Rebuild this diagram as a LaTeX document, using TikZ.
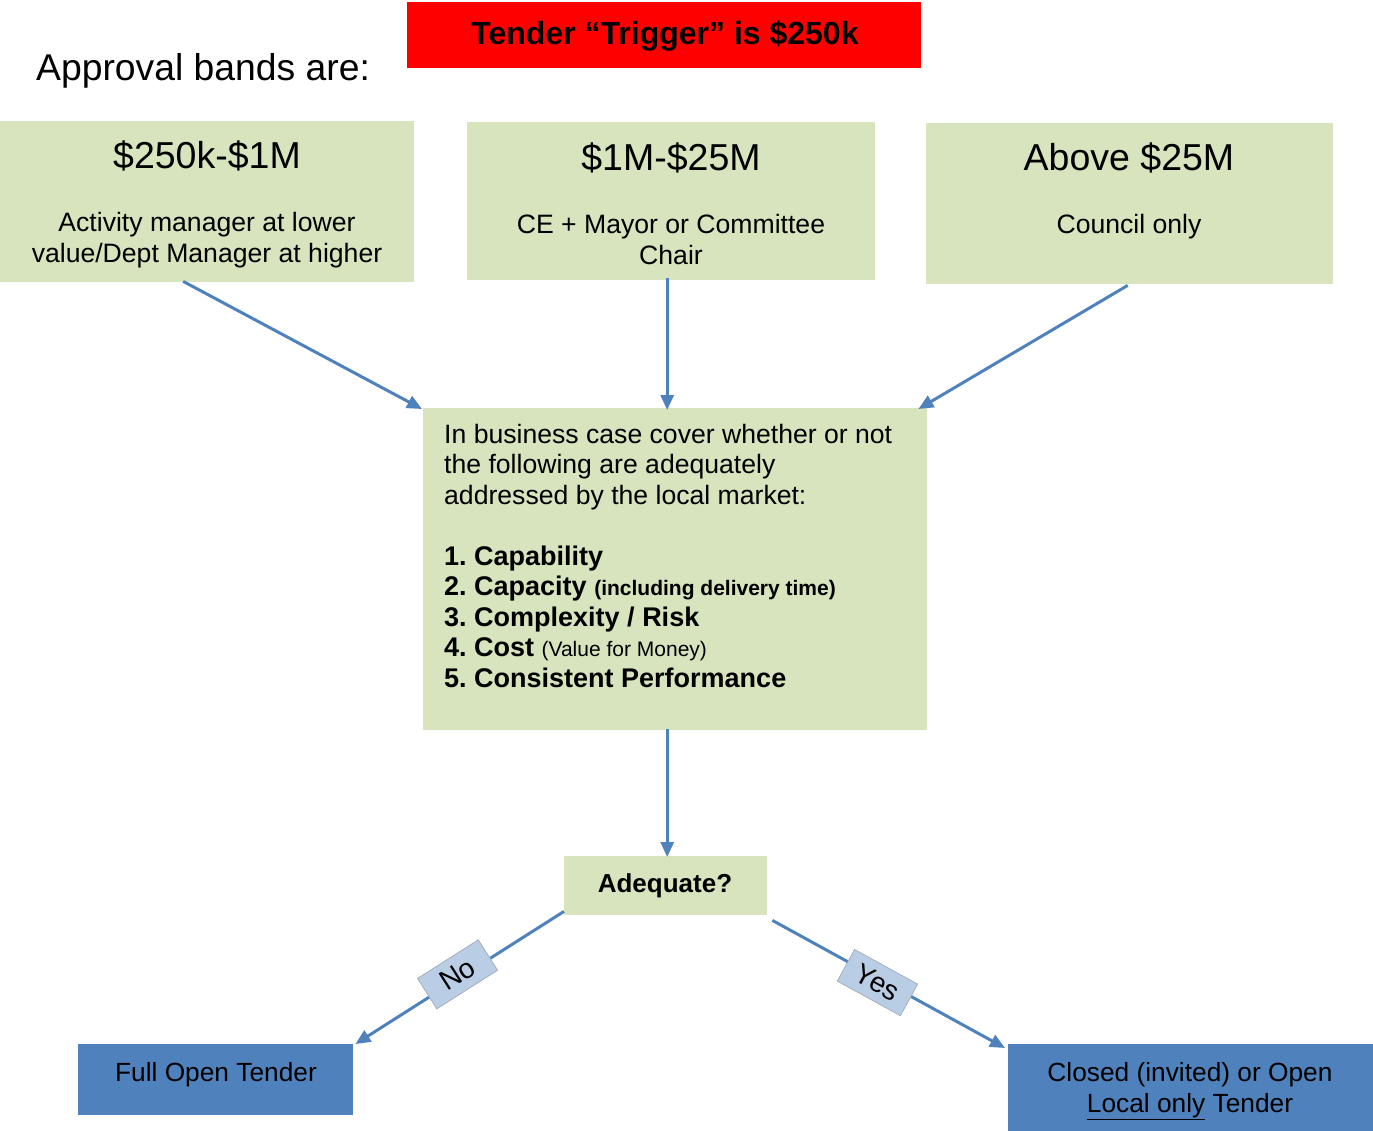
\documentclass[tikz,border=0pt]{standalone}
\usepackage{fontspec}
\setmainfont{Liberation Sans}
\usetikzlibrary{arrows.meta}
\definecolor{boxgreen}{RGB}{215,228,189}
\definecolor{lineblue}{RGB}{79,129,189}
\definecolor{lblblue}{RGB}{185,205,229}
\definecolor{lblborder}{RGB}{165,175,190}
\newcommand{\fs}[2]{\fontsize{#1}{#2}\selectfont}
\frenchspacing
\begin{document}
\begin{tikzpicture}[x=1pt,y=-1pt,
  gbox/.style={fill=boxgreen, draw=none, anchor=north west, inner sep=0pt},
  bbox/.style={fill=lineblue, draw=none, anchor=north west, inner sep=0pt},
  conn/.style={draw=lineblue, line width=3pt, -{Triangle[length=15pt,width=13pt]}},
  lbl/.style={fill=lblblue, draw=lblborder, line width=0.8pt, font=\fs{28}{30}, inner xsep=6pt, inner ysep=3pt, minimum height=36pt, minimum width=72pt, sloped},
  title/.style={font=\fs{37.5}{40}, inner sep=0pt},
  body/.style={font=\fs{26.6}{31}, align=center, inner sep=0pt}]
\useasboundingbox (0,0) rectangle (1373,1131);

% header
\node[fill=red, minimum width=514pt, minimum height=66pt, anchor=north west, inner sep=0pt] (trig) at (407,2) {};
\node[font=\fs{32}{34}\bfseries, inner sep=0pt] (trigtxt) at (665,36) {Tender “Trigger” is \$250k};
\node[font=\fs{37.3}{40}, anchor=west, inner sep=0pt] (appr) at (36,71) {Approval bands are:};

% band boxes
\node[gbox, minimum width=414pt, minimum height=161pt] (b1) at (0,121) {};
\node[gbox, minimum width=408pt, minimum height=158pt] (b2) at (467,122) {};
\node[gbox, minimum width=407pt, minimum height=161pt] (b3) at (926,123) {};

\node[title] (b1t) at (207,156) {\$250k-\$1M};
\node[body] (b1b) at (207,240) {Activity manager at lower\\value/Dept Manager at higher};
\node[title] (b2t) at (671,158) {\$1M-\$25M};
\node[body] (b2b) at (671,239) {CE + Mayor or Committee\\Chair};
\node[title] (b3t) at (1129,158) {Above \$25M};
\node[body] (b3b) at (1129,227) {Council only};

% center box
\node[gbox, minimum width=504pt, minimum height=322pt] (cb) at (423,408) {};
\node[anchor=north west, inner sep=0pt, align=left, font=\fs{26.6}{30.5}] (cbt) at (444,424)
 {In business case cover whether or not\\
  the following are adequately\\
  addressed by the local market:\\[30.5pt]
  {\fs{27}{31}\bfseries 1. Capability}\\
  {\fs{27}{31}\bfseries 2. Capacity {\fs{21}{31}(including delivery time)}}\\
  {\fs{27}{31}\bfseries 3. Complexity / Risk}\\
  {\fs{27}{31}\bfseries 4. Cost} {\fs{21}{31}(Value for Money)}\\
  {\fs{27}{31}\bfseries 5. Consistent Performance}};

% decision
\node[gbox, minimum width=203pt, minimum height=59pt] (adq) at (564,856) {};
\node[font=\fs{26}{30}\bfseries, inner sep=0pt] (adqt) at (665,886) {Adequate?};

% outcomes
\node[bbox, minimum width=275pt, minimum height=71pt] (full) at (78,1044) {};
\node[font=\fs{26.3}{30}, inner sep=0pt] (fullt) at (216,1075) {Full Open Tender};
\node[bbox, minimum width=365pt, minimum height=87pt] (closed) at (1008,1044) {};
\node[font=\fs{26.3}{30.5}, align=center, inner sep=0pt] (closedt) at (1190,1091)
 {Closed (invited) or Open\\\underline{Local only} Tender};

% connectors
\draw[conn] ([xshift=-24pt,yshift=1pt]b1.south) -- ([xshift=-1pt,yshift=-1pt]cb.north west);
\draw[conn] ([xshift=-4pt,yshift=2pt]b2.south) -- ([xshift=-8pt,yshift=-2pt]cb.north);
\draw[conn] ([xshift=-2pt,yshift=-1pt]b3.south) -- ([xshift=-9pt,yshift=-1pt]cb.north east);
\draw[conn] ([xshift=1.5pt,yshift=1pt]cb.south -| adq.north) -- ([xshift=1.5pt,yshift=-1pt]adq.north);
\draw[conn] ([yshift=4pt]adq.south west) -- node[lbl, pos=0.5, yshift=4pt] (lno) {No} ([xshift=2pt]full.north east);
\draw[conn] ([xshift=5pt,yshift=-5pt]adq.south east) -- node[lbl, pos=0.46, yshift=-4pt] (lyes) {Yes} ([xshift=-3pt,yshift=-4pt]closed.north west);
\end{tikzpicture}
\end{document}
